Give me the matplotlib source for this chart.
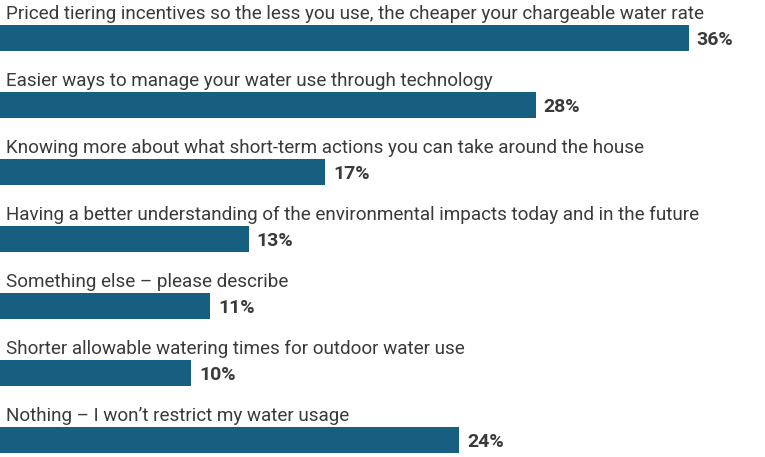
import matplotlib
matplotlib.use("Agg")
import matplotlib.pyplot as plt

labels = [
    "Priced tiering incentives so the less you use, the cheaper your chargeable water rate",
    "Easier ways to manage your water use through technology",
    "Knowing more about what short-term actions you can take around the house",
    "Having a better understanding of the environmental impacts today and in the future",
    "Something else \u2013 please describe",
    "Shorter allowable watering times for outdoor water use",
    "Nothing \u2013 I won\u2019t restrict my water usage",
]
values = [36, 28, 17, 13, 11, 10, 24]

bar_color = "#165F80"
text_color = "#3A3A3A"

plt.rcParams['font.family'] = ['Roboto', 'DejaVu Sans']

fig = plt.figure(figsize=(7.65, 4.57), dpi=100)
ax = fig.add_axes([0, 0, 1, 1])

pos = list(range(len(values)))
ax.barh(pos, values, height=0.40, color=bar_color)

# answer text above each bar, bold percentage just past the bar end
for i, (lab, v) in enumerate(zip(labels, values)):
    ax.text(0.3, i - 0.28, lab, fontsize=13.6, color=text_color, va='baseline', ha='left')
    ax.text(v + 0.42, i + 0.03, f"{v}%", fontsize=14, fontweight='bold', color=text_color,
            va='center', ha='left')

ax.set_xlim(0, 40)
ax.set_ylim(6.254, -0.567)
ax.axis('off')

fig.savefig("out.png", dpi=100)
